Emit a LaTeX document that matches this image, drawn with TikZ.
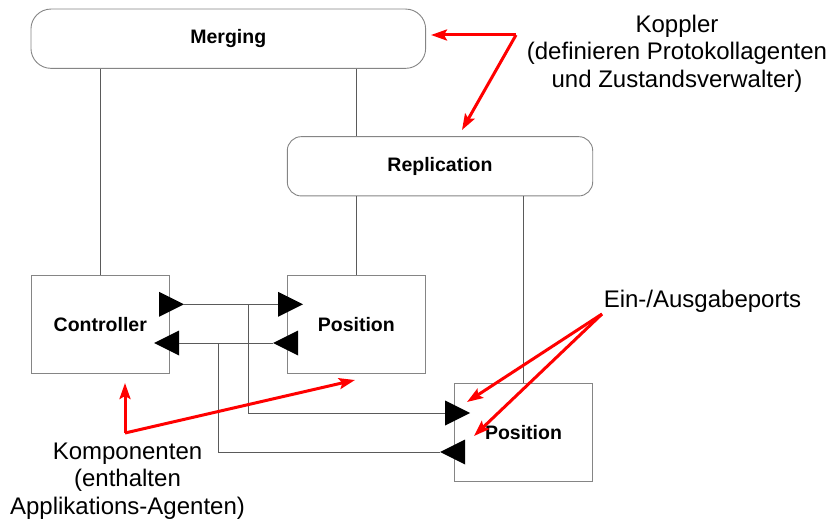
\documentclass[tikz,border=0pt]{standalone}
\usepackage{fontspec}
\setmainfont{Liberation Sans}
\usetikzlibrary{arrows.meta,shapes.geometric}

\definecolor{framegray}{HTML}{858585}
\definecolor{wiregray}{HTML}{5A5A5A}
\definecolor{notered}{HTML}{FF0000}

\tikzset{
  coupler/.style={draw=framegray, line width=0.9pt, rounded corners=#1, fill=white,
    font=\bfseries\fontsize{19.5}{22}\selectfont},
  component/.style={draw=framegray, line width=0.9pt, fill=white,
    font=\bfseries\fontsize{19.5}{22}\selectfont},
  port/.style={isosceles triangle, isosceles triangle stretches, fill=black,
    inner sep=0pt, outer sep=0pt, minimum width=25pt, minimum height=25pt},
  wire/.style={draw=wiregray, line width=0.9pt},
  note/.style={draw=notered, line width=3pt,
    -{Stealth[length=16pt,width=11pt,inset=3pt]}},
  annot/.style={inner sep=0pt, align=center, font=\fontsize{24}{27.5}\selectfont}
}

\begin{document}
\begin{tikzpicture}[x=1pt, y=-1pt]
\useasboundingbox (0,0) rectangle (831,524);

% couplers
\node[coupler=20pt, minimum width=394.7pt, minimum height=59.3pt] (merge) at (228.3,38.7) {Merging};
\node[coupler=14pt, minimum width=305.4pt, minimum height=59.3pt] (repl) at (440,166.3) {Replication};

% components
\node[component, minimum width=137.3pt, minimum height=98.3pt] (ctrl) at (100.3,324.2) {Controller};
\node[component, minimum width=138pt, minimum height=98.3pt] (posA) at (356.3,324.2) {Position};
\node[component, minimum width=138.4pt, minimum height=97.7pt] (posB) at (523.5,432.2) {Position};

% hierarchy lines
\draw[wire] (merge.south -| ctrl.north) -- (ctrl.north);
\draw[wire] (merge.south -| posA.north) -- (repl.north -| posA.north);
\draw[wire] (repl.south -| posA.north) -- (posA.north);
\draw[wire] (repl.south -| posB.north) -- (posB.north);

% ports
\node[port, anchor=lower side] (ctrlOut) at (159,304.3) {};
\node[port, shape border rotate=180, anchor=lower side] (ctrlIn) at (179,343) {};
\node[port, anchor=lower side] (posAIn) at (278,304.3) {};
\node[port, shape border rotate=180, anchor=lower side] (posAOut) at (298,343) {};
\node[port, anchor=lower side] (posBIn) at (445,413) {};
\node[port, shape border rotate=180, anchor=lower side] (posBOut) at (465,452) {};

% port connections
\draw[wire] (ctrlOut.apex) -- (posAIn.lower side);
\draw[wire] (posAOut.apex) -- (ctrlIn.lower side);
\coordinate (tapA) at (248,304.3);
\coordinate (tapB) at (218,343);
\draw[wire] (tapA) |- (posBIn.lower side);
\draw[wire] (tapB) |- (posBOut.apex);

% annotations
\node[annot, anchor=north] (kopplerTxt) at (677,14.5)
  {Koppler\\(definieren Protokollagenten\\und Zustandsverwalter)};
\node[annot, anchor=base] (portTxt) at (702.5,307.7) {Ein-/Ausgabeports};
\node[annot, anchor=north] (kompTxt) at (127.5,442.5)
  {Komponenten\\(enthalten\\Applikations-Agenten)};

% annotation arrows
\coordinate (kFork) at (516,35);
\coordinate (kMerge) at (431,35);
\coordinate (kRepl) at (462,130);
\draw[note] (kFork) -- (kMerge);
\draw[note] (kFork) -- (kRepl);

\coordinate (pFork) at (602,314);
\coordinate (pIn) at (467,402);
\coordinate (pOut) at (474,436);
\draw[note] (pFork) -- (pIn);
\draw[note] (pFork) -- (pOut);

\coordinate (cFork) at (125,433);
\coordinate (cCtrl) at (125,383);
\coordinate (cPos) at (355,380);
\draw[note] (cFork) -- (cCtrl);
\draw[note] (cFork) -- (cPos);
\end{tikzpicture}
\end{document}
